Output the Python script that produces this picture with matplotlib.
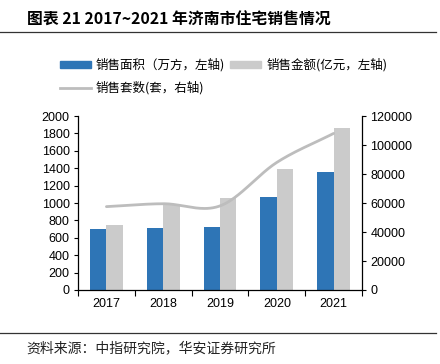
import numpy as np
import matplotlib
matplotlib.use("Agg")
import matplotlib.pyplot as plt
from matplotlib.lines import Line2D
from matplotlib.patches import Patch

plt.rcParams['font.family'] = ['Liberation Sans', 'Noto Sans CJK SC', 'DejaVu Sans']

years = ['2017', '2018', '2019', '2020', '2021']
area = [700, 710, 722, 1065, 1355]          # 销售面积（万方）
amount = [748, 992, 1061, 1386, 1862]       # 销售金额（亿元）
units = [57500, 59500, 58000, 88000, 108000]  # 销售套数（套）

BLUE = '#2E75B6'
GRAY = '#CBCBCB'
LGRAY = '#BDBDBD'

fig = plt.figure(figsize=(4.4, 3.64), dpi=100)
ax = fig.add_axes([0.1773, 0.2033, 0.6455, 0.478])
ax2 = ax.twinx()

x = np.arange(len(years))
w = 0.29
ax.bar(x - w / 2, area, width=w, color=BLUE, zorder=2)
ax.bar(x + w / 2, amount, width=w, color=GRAY, zorder=2)

# smoothed line (Catmull-Rom through the data points)
def catmull(xs, ys, n=40):
    xs = np.asarray(xs, float); ys = np.asarray(ys, float)
    px, py = [], []
    for i in range(len(xs) - 1):
        y0 = ys[i - 1] if i > 0 else ys[i]
        y3 = ys[i + 2] if i + 2 < len(ys) else ys[i + 1]
        y1, y2 = ys[i], ys[i + 1]
        m1 = (y2 - y0) / (2 if i > 0 else 1)
        m2 = (y3 - y1) / (2 if i + 2 < len(ys) else 1)
        t = np.linspace(0, 1, n, endpoint=False)
        h00 = 2*t**3 - 3*t**2 + 1; h10 = t**3 - 2*t**2 + t
        h01 = -2*t**3 + 3*t**2; h11 = t**3 - t**2
        px.extend(xs[i] + t * (xs[i + 1] - xs[i]))
        py.extend(h00*y1 + h10*m1 + h01*y2 + h11*m2)
    px.append(xs[-1]); py.append(ys[-1])
    return px, py

sx, sy = catmull(x, units)
ax2.plot(sx, sy, color=LGRAY, lw=2, solid_capstyle='round', zorder=3)

ax.set_xlim(-0.5, 4.5)
ax.set_ylim(0, 2000)
ax.set_yticks(np.arange(0, 2001, 200))
ax2.set_ylim(0, 120000)
ax2.set_yticks(np.arange(0, 120001, 20000))

ax.set_xticks(x)
ax.set_xticklabels(years)
ax.set_xticks(np.arange(-0.5, 4.6, 1), minor=True)
ax.tick_params(axis='x', which='major', length=0, pad=6, labelsize=9)
ax.tick_params(axis='x', which='minor', length=4, direction='out', width=0.8)
ax.tick_params(axis='y', length=3, width=0.8, direction='out', labelsize=9, pad=3)
ax2.tick_params(axis='y', length=3, width=0.8, direction='out', labelsize=9, pad=3)

for a in (ax, ax2):
    a.spines['top'].set_visible(False)
    for s in a.spines.values():
        s.set_linewidth(0.9)
ax.spines['right'].set_visible(False)
ax2.spines['left'].set_visible(False)
ax2.spines['bottom'].set_visible(False)

cjk = ['Noto Sans CJK SC', 'DejaVu Sans']
fig.text(0.061, 0.945, '图表 21 2017~2021 年济南市住宅销售情况', fontsize=11.4,
         fontweight='bold', family=cjk, va='center', ha='left')
fig.add_artist(Line2D([0, 0.99], [0.913, 0.913], color='#333333', lw=0.9))
fig.add_artist(Line2D([0, 0.99], [0.085, 0.085], color='#333333', lw=0.9))
fig.text(0.061, 0.044, '资料来源：中指研究院，华安证券研究所', fontsize=10,
         family=cjk, va='center', ha='left', color='#222222')

handles = [Patch(color=BLUE), Patch(color=GRAY), Line2D([], [], color=LGRAY, lw=2)]
labels = ['销售面积（万方，左轴)', '销售金额(亿元，左轴)', '销售套数(套，右轴)']
kw = dict(frameon=False, prop={'family': cjk, 'size': 9}, borderpad=0, borderaxespad=0,
          handlelength=2.48, handleheight=0.5, handletextpad=0.4)
fig.legend(handles[:2], labels[:2], loc='center left', bbox_to_anchor=(0.136, 0.821),
           ncol=2, columnspacing=0.4, **kw)
fig.legend(handles[2:], labels[2:], loc='center left', bbox_to_anchor=(0.136, 0.758), **kw)

fig.savefig('out.png', dpi=100)
